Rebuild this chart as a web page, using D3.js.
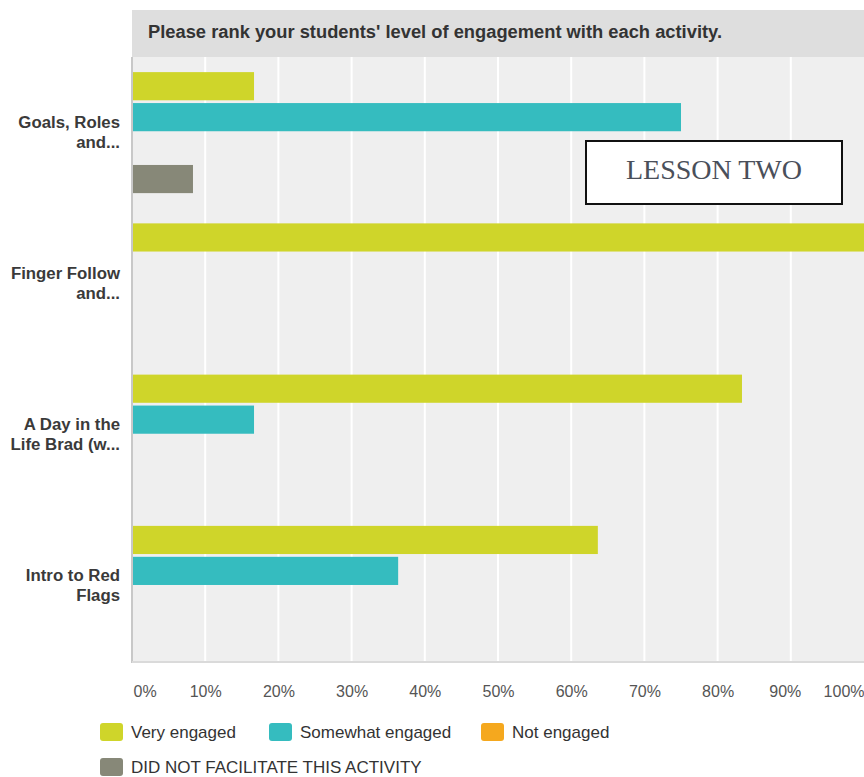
<!DOCTYPE html>
<html>
<head>
<meta charset="utf-8">
<script src="https://cdn.jsdelivr.net/npm/d3@7"></script>
<style>
  html, body { margin: 0; padding: 0; background: #fff; }
  svg { display: block; font-family: "Liberation Sans", Arial, Helvetica, sans-serif; }
</style>
</head>
<body>
<svg id="chart" width="864" height="777"></svg>
<script>
// Survey question and answer data
const title = "Please rank your students' level of engagement with each activity.";
const categories = [
  ["Goals, Roles", "and..."],
  ["Finger Follow", "and..."],
  ["A Day in the", "Life Brad (w..."],
  ["Intro to Red", "Flags"]
];
const seriesNames = ["Very engaged", "Somewhat engaged", "Not engaged", "DID NOT FACILITATE THIS ACTIVITY"];
const seriesColors = ["#cfd52a", "#35bcbf", "#f5a81e", "#878878"];
const veryEngaged = [16.67, 100, 83.33, 63.64];
const somewhatEngaged = [75, 0, 16.67, 36.36];
const notEngaged = [0, 0, 0, 0];
const didNotFacilitate = [8.33, 0, 0, 0];
const tickValues = [0, 10, 20, 30, 40, 50, 60, 70, 80, 90, 100];
const tickLabels = ["0%", "10%", "20%", "30%", "40%", "50%", "60%", "70%", "80%", "90%", "100%"];

const series = [veryEngaged, somewhatEngaged, notEngaged, didNotFacilitate];

const svg = d3.select("#chart");
const plot = { left: 132, right: 864, top: 57, bottom: 662 };

const x = d3.scaleLinear().domain([0, 100]).range([plot.left, plot.right]);
const y0 = d3.scaleBand().domain(d3.range(categories.length))
  .range([plot.top, plot.bottom]).paddingInner(0.2).paddingOuter(0.1);
const y1 = d3.scaleBand().domain(d3.range(series.length))
  .range([0, y0.bandwidth()]).paddingInner(0.09).paddingOuter(0);

// title bar
svg.append("rect").attr("x", plot.left).attr("y", 10)
  .attr("width", plot.right - plot.left).attr("height", plot.top - 10)
  .attr("fill", "#dedede");
svg.append("text").attr("x", 148).attr("y", 38)
  .attr("font-size", 18).attr("font-weight", "bold").attr("fill", "#333")
  .attr("textLength", 574).attr("lengthAdjust", "spacingAndGlyphs")
  .text(title);

// plot background
svg.append("rect").attr("x", plot.left).attr("y", plot.top)
  .attr("width", plot.right - plot.left).attr("height", plot.bottom - plot.top)
  .attr("fill", "#efefef");

// vertical grid
svg.append("g").selectAll("line").data(tickValues.slice(1, -1)).join("line")
  .attr("x1", d => x(d)).attr("x2", d => x(d))
  .attr("y1", plot.top).attr("y2", plot.bottom)
  .attr("stroke", "#fff").attr("stroke-width", 2);

// axis frame lines
svg.append("line").attr("x1", plot.left).attr("x2", plot.left)
  .attr("y1", plot.top).attr("y2", plot.bottom + 1)
  .attr("stroke", "#c8c8c8").attr("stroke-width", 2);
svg.append("line").attr("x1", plot.left).attr("x2", plot.right)
  .attr("y1", plot.bottom).attr("y2", plot.bottom)
  .attr("stroke", "#dadada").attr("stroke-width", 2);

// bars
const groups = svg.append("g").selectAll("g").data(categories).join("g")
  .attr("transform", (d, i) => `translate(0,${y0(i)})`);
groups.selectAll("rect")
  .data((d, i) => series.map((s, k) => ({ k, v: s[i] })).filter(e => e.v > 0))
  .join("rect")
  .attr("x", x(0) + 1)
  .attr("y", d => y1(d.k))
  .attr("width", d => x(d.v) - x(0) - 1)
  .attr("height", y1.bandwidth())
  .attr("fill", d => seriesColors[d.k]);

// category labels
groups.append("text")
  .attr("text-anchor", "end")
  .attr("font-size", 16.8).attr("font-weight", "bold").attr("fill", "#3a3a3a")
  .selectAll("tspan").data(d => d).join("tspan")
  .attr("x", 120)
  .attr("y", (d, j) => y0.bandwidth() / 2 - 5 + j * 20)
  .text(d => d);

// x axis labels
const xAxis = d3.axisBottom(x).tickValues(tickValues)
  .tickFormat((d, i) => tickLabels[i]).tickSize(0).tickPadding(0);
const axisG = svg.append("g").attr("transform", `translate(0,${plot.bottom + 24})`).call(xAxis);
axisG.select(".domain").remove();
axisG.selectAll("text")
  .attr("font-size", 16).attr("fill", "#555")
  .attr("font-family", "'Liberation Sans', Arial, sans-serif")
  .attr("text-anchor", (d, i) => i === 0 ? "start" : (i === tickValues.length - 1 ? "end" : "middle"))
  .attr("dx", (d, i) => i === 0 ? 1 : (i === tickValues.length - 2 ? -6 : 0));

// legend
const legendPos = [[100, 723], [269, 723], [481, 723], [100, 758]];
const legend = svg.append("g").selectAll("g").data(seriesNames).join("g")
  .attr("transform", (d, i) => `translate(${legendPos[i][0]},${legendPos[i][1]})`);
legend.append("rect").attr("width", 23).attr("height", 18).attr("rx", 3)
  .attr("fill", (d, i) => seriesColors[i]);
legend.append("text").attr("x", 31).attr("y", 15)
  .attr("font-size", 17).attr("fill", "#333").text(d => d);

// lesson label box
svg.append("rect").attr("x", 586).attr("y", 141).attr("width", 256).attr("height", 63)
  .attr("fill", "#fff").attr("stroke", "#111").attr("stroke-width", 2);
svg.append("text").attr("x", 714).attr("y", 179).attr("text-anchor", "middle")
  .attr("font-family", "'Liberation Serif', 'DejaVu Serif', serif")
  .attr("font-size", 28).attr("fill", "#4a4f5a").text("LESSON TWO");
</script>
</body>
</html>
